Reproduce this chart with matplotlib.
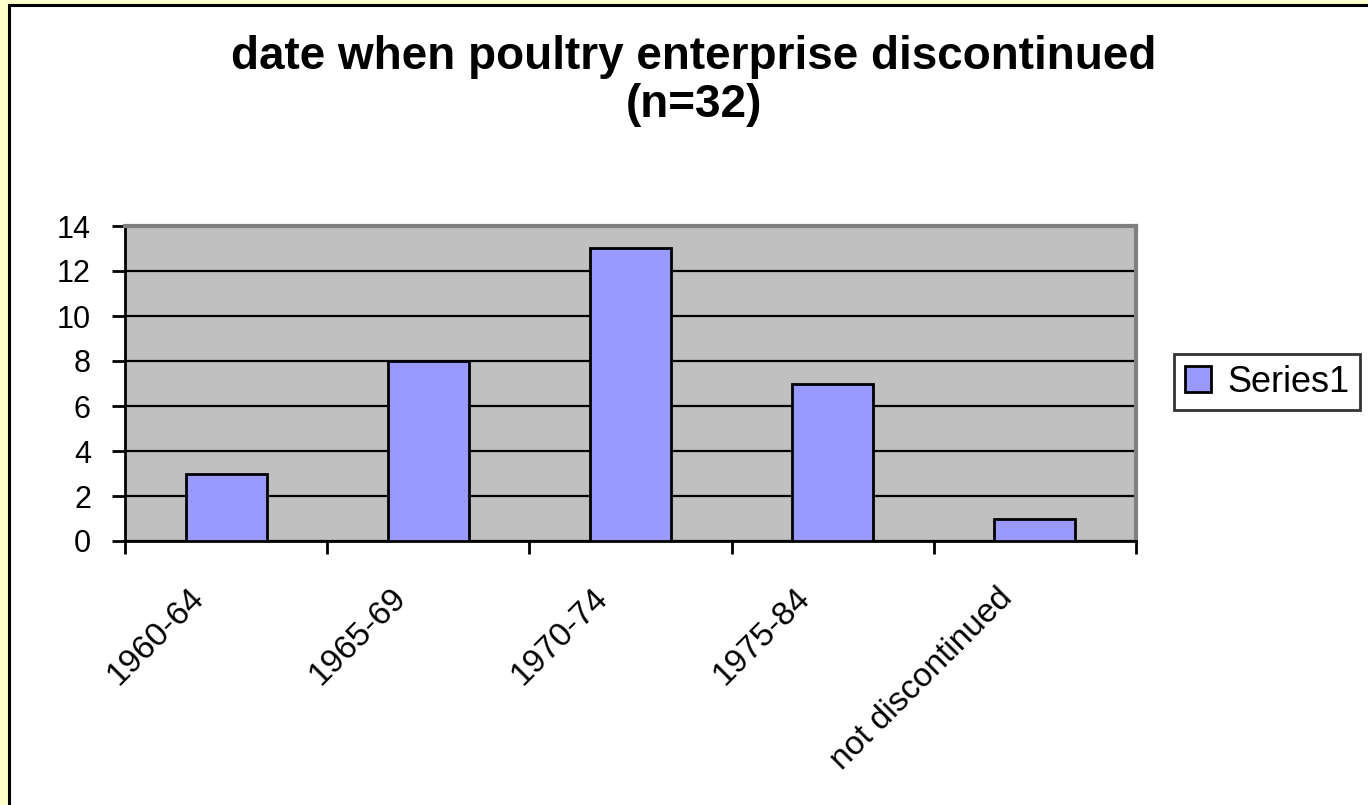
import matplotlib.pyplot as plt
from matplotlib.patches import Rectangle
from matplotlib.transforms import ScaledTranslation

plt.rcParams['font.family'] = ['Liberation Sans', 'DejaVu Sans']

# veriler
kategoriler = ["1960-64", "1965-69", "1970-74", "1975-84", "not discontinued"]
degerler = [3, 8, 13, 7, 1]
seri_adi = "Series1"
baslik_1 = "date when poultry enterprise discontinued"
baslik_2 = "(n=32)"

fig = plt.figure(figsize=(13.68, 8.05), dpi=100)
fig.patch.set_facecolor("#FFFFCC")

# beyaz grafik alanı, siyah kenar
fig.patches.append(Rectangle((8.5 / 1368, -0.05), 1.2, 1 - 5.5 / 805 + 0.05,
                             transform=fig.transFigure, facecolor="white",
                             edgecolor="black", linewidth=2.2, zorder=-10))

ax = fig.add_axes([125 / 1368, 1 - 541 / 805, (1136 - 125) / 1368, (541 - 226) / 805])
ax.set_facecolor("#C0C0C0")
ax.set_zorder(5)

x = list(range(len(kategoriler)))
ax.bar(x, degerler, width=0.4, color="#9999FF", edgecolor="black",
       linewidth=2, label=seri_adi, zorder=3)

ax.set_xlim(-0.5, len(kategoriler) - 0.5)
ax.set_ylim(0, 14)
ax.set_yticks(range(0, 15, 2))
ax.yaxis.grid(True, color="black", linewidth=1.6, zorder=1)
ax.set_axisbelow(True)

ax.set_xticks(x)
ax.set_xticklabels(kategoriler, rotation=45, ha="right", rotation_mode="anchor",
                   fontsize=24)
ax.set_xticks([i - 0.5 for i in range(len(kategoriler) + 1)], minor=True)
ax.tick_params(axis="x", which="major", length=0, pad=30)
ax.tick_params(axis="x", which="minor", length=9, width=2, direction="out")
ax.tick_params(axis="y", length=9.5, width=2, direction="out", labelsize=22, pad=15)

# Excel etiketleri kategorinin biraz soluna yerleştiriyor
kaydir = ScaledTranslation(-0.38, 0, fig.dpi_scale_trans)
for lbl in ax.get_xticklabels():
    lbl.set_transform(lbl.get_transform() + kaydir)

for s in ["left", "bottom"]:
    ax.spines[s].set_color("black")
    ax.spines[s].set_linewidth(2)
for s in ["top", "right"]:
    ax.spines[s].set_color("#808080")
    ax.spines[s].set_linewidth(3)

fig.text(694 / 1368, 1 - 57 / 805, baslik_1, ha="center", va="center",
         fontsize=33, fontweight="bold")
fig.text(694 / 1368, 1 - 105 / 805, baslik_2, ha="center", va="center",
         fontsize=33, fontweight="bold")

leg = ax.legend(loc="center", bbox_to_anchor=(1267 / 1368, 1 - 382 / 805),
                bbox_transform=fig.transFigure, fontsize=26, frameon=True,
                fancybox=False, edgecolor="black", handlelength=0.72,
                handleheight=0.72, handletextpad=0.45, borderpad=0.3)
leg.get_frame().set_linewidth(2)

fig.savefig("out.png", dpi=100, facecolor=fig.get_facecolor())
